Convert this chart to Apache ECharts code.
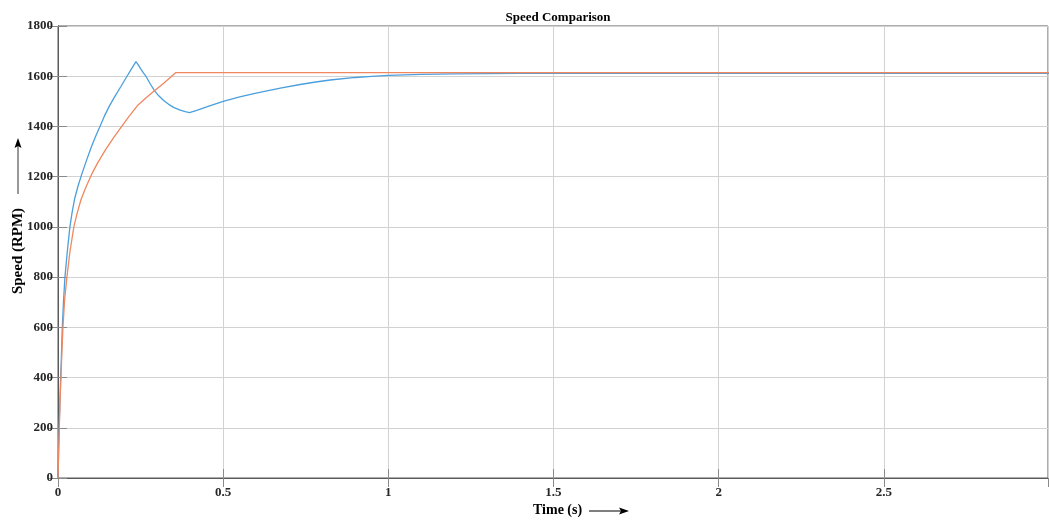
<!DOCTYPE html>
<html>
<head>
<meta charset="utf-8">
<script src="https://cdn.jsdelivr.net/npm/echarts@6/dist/echarts.min.js"></script>
<style>
html,body{margin:0;padding:0;background:#fff;}
#c{width:1049px;height:521px;}
</style>
</head>
<body>
<div id="c"></div>
<script>
// Time (s) and speed (RPM) samples
var blueT = [0, 0.002, 0.004, 0.006, 0.008, 0.01, 0.013, 0.017, 0.021, 0.028, 0.036, 0.043, 0.05, 0.06, 0.072, 0.085, 0.1, 0.113, 0.127, 0.14, 0.155, 0.17, 0.19, 0.208, 0.222, 0.236,
  0.243, 0.25, 0.258, 0.267, 0.28, 0.292, 0.305, 0.319, 0.335, 0.35, 0.37, 0.385, 0.398,
  0.42, 0.45, 0.5, 0.55, 0.6, 0.64, 0.673, 0.733, 0.78, 0.824, 0.9, 0.95, 1.0, 1.05, 1.1, 1.2, 1.3, 1.4, 1.6, 2.0, 2.5, 3.0];
var blueV = [0, 120, 220, 310, 400, 470, 600, 710, 800, 900, 1000, 1060, 1110, 1160, 1210, 1260, 1315, 1358, 1400, 1440, 1480, 1515, 1558, 1598, 1628, 1658,
  1645, 1630, 1614, 1598, 1568, 1543, 1522, 1504, 1488, 1476, 1465, 1459, 1455,
  1464, 1478, 1500, 1518, 1533, 1544, 1553, 1567, 1577, 1585, 1595, 1599, 1603, 1605, 1607, 1609, 1610, 1611, 1611, 1611, 1611, 1611];
var orangeT = [0, 0.002, 0.004, 0.006, 0.009, 0.012, 0.015, 0.02, 0.027, 0.036, 0.048, 0.058, 0.07, 0.085, 0.102, 0.12, 0.145, 0.17, 0.193, 0.215, 0.24, 0.265, 0.292, 0.32, 0.344, 0.356, 1.0, 2.0, 3.0];
var orangeV = [0, 110, 200, 300, 400, 510, 600, 710, 800, 900, 1000, 1055, 1110, 1160, 1210, 1255, 1310, 1358, 1400, 1440, 1482, 1512, 1542, 1572, 1600, 1614, 1614, 1614, 1614];
var xTicks = [0, 0.5, 1, 1.5, 2, 2.5];
var yTicks = [0, 200, 400, 600, 800, 1000, 1200, 1400, 1600, 1800];

function pairs(t, v) { return t.map(function (x, i) { return [x, v[i]]; }); }

var font = '"Liberation Serif", "Times New Roman", serif';
var chart = echarts.init(document.getElementById('c'), null, {renderer: 'canvas'});
var labelStyle = {fontFamily: font, fontWeight: 'bold', fontSize: 13, color: '#262626'};

chart.setOption({
  animation: false,
  backgroundColor: '#ffffff',
  title: {
    text: 'Speed Comparison', left: 553, top: 6, textAlign: 'center',
    textStyle: {fontFamily: font, fontWeight: 'bold', fontSize: 13, color: '#000'}
  },
  grid: {left: 58, right: 1, top: 26, bottom: 43, show: true, borderColor: '#5a5a5a', borderWidth: 1,
    containLabel: false, outerBoundsMode: 'none'},
  xAxis: [{
    type: 'value', min: 0, max: 2.997, interval: 0.5,
    axisLine: {show: true, lineStyle: {color: '#5a5a5a'}},
    axisTick: {show: true, inside: true, length: 9, lineStyle: {color: '#8a8a8a'}},
    axisLabel: Object.assign({margin: 8, showMaxLabel: false, formatter: function (v) { return xTicks.indexOf(v) >= 0 ? String(v) : ''; }}, labelStyle),
    splitLine: {show: true, lineStyle: {color: '#d2d2d2', width: 1}}
  }, {
    type: 'value', min: 0, max: 2.997, interval: 0.5, position: 'top',
    axisLine: {show: true, lineStyle: {color: '#5a5a5a'}},
    axisTick: {show: true, inside: true, length: 9, lineStyle: {color: '#8a8a8a'}},
    axisLabel: {show: false}, splitLine: {show: false}
  }],
  yAxis: [{
    type: 'value', min: 0, max: 1800, interval: 200,
    axisLine: {show: true, lineStyle: {color: '#5a5a5a'}},
    axisTick: {show: true, inside: true, length: 9, lineStyle: {color: '#8a8a8a'}},
    axisLabel: Object.assign({margin: 5, formatter: function (v) { return yTicks.indexOf(v) >= 0 ? String(v) : ''; }}, labelStyle),
    splitLine: {show: true, lineStyle: {color: '#d2d2d2', width: 1}}
  }, {
    type: 'value', min: 0, max: 1800, interval: 200, position: 'right',
    axisLine: {show: true, lineStyle: {color: '#5a5a5a'}},
    axisTick: {show: true, inside: true, length: 9, lineStyle: {color: '#8a8a8a'}},
    axisLabel: {show: false}, splitLine: {show: false}
  }],
  graphic: [
    {type: 'text', x: 18, y: 251, rotation: Math.PI / 2,
      style: {text: 'Speed (RPM)', font: 'bold 15px ' + font, fill: '#000', textAlign: 'center', textVerticalAlign: 'middle'}},
    {type: 'text', left: 533, top: 503, style: {text: 'Time (s)', font: 'bold 14px ' + font, fill: '#000'}},
    {type: 'line', shape: {x1: 589, y1: 511, x2: 624, y2: 511}, style: {stroke: '#000', lineWidth: 1}},
    {type: 'polygon', shape: {points: [[629, 511], [619, 507.5], [621, 511], [619, 514.5]]}, style: {fill: '#000'}},
    {type: 'line', shape: {x1: 18, y1: 194, x2: 18, y2: 145}, style: {stroke: '#333', lineWidth: 1}},
    {type: 'polygon', shape: {points: [[18, 138], [14.5, 148], [18, 146], [21.5, 148]]}, style: {fill: '#000'}}
  ],
  series: [{
    type: 'line', data: pairs(blueT, blueV), showSymbol: false, smooth: false,
    lineStyle: {color: '#4a9fdc', width: 1.3}, itemStyle: {color: '#4a9fdc'}, z: 3
  }, {
    type: 'line', data: pairs(orangeT, orangeV), showSymbol: false, smooth: false,
    lineStyle: {color: '#f0875f', width: 1.3}, itemStyle: {color: '#f0875f'}, z: 4
  }]
});
</script>
</body>
</html>
